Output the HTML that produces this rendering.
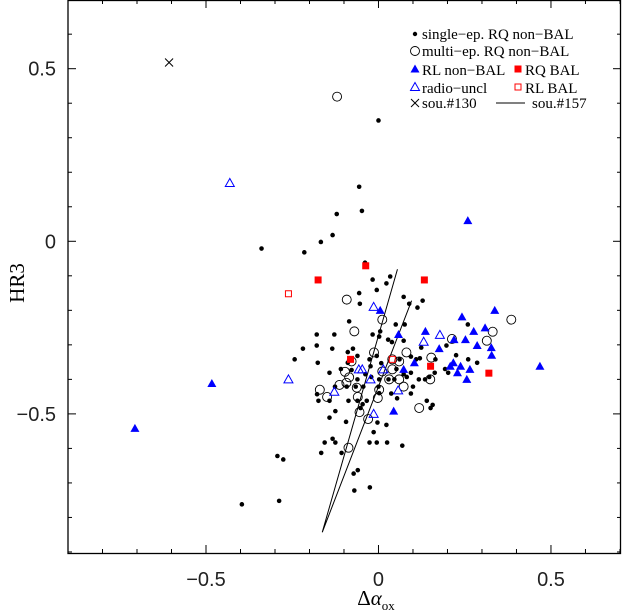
<!DOCTYPE html>
<html><head><meta charset="utf-8"><style>
body{margin:0;background:#fff;width:622px;height:612px;overflow:hidden}
svg{display:block}
text{font-family:"Liberation Sans",sans-serif}
.lg{font-family:"Liberation Serif",serif;font-size:15px}
.serif{font-family:"Liberation Serif",serif}
</style></head><body>
<svg id="chart" width="622" height="612" xmlns="http://www.w3.org/2000/svg"></svg>
<script>
const xTicks=[-0.5,0,0.5];
const yTicks=[0.5,0,-0.5];
const singleX=[0.00,-0.056,-0.048,-0.121,-0.133,-0.167,-0.215,-0.339,-0.039,-0.017,0.023,0.034,-0.005,-0.056,-0.054,0.073,0.089,0.113,0.128,-0.085,0.050,0.076,0.259,-0.179,-0.128,-0.017,0.005,0.028,0.039,0.002,0.073,0.124,-0.179,-0.134,-0.219,-0.243,-0.176,-0.089,-0.074,-0.061,-0.089,-0.026,-0.005,-0.023,0.008,0.061,0.094,0.109,0.120,0.094,0.073,0.052,0.029,0.046,0.082,0.117,0.135,0.147,0.163,0.165,0.197,0.193,0.202,0.225,0.260,0.286,-0.142,-0.109,-0.078,-0.061,-0.038,-0.021,0.002,0.000,-0.044,-0.066,-0.092,-0.126,-0.178,-0.174,-0.142,-0.087,-0.061,-0.034,0.002,0.037,0.054,0.094,0.100,0.140,0.151,0.157,-0.125,-0.142,-0.094,-0.052,-0.046,-0.003,0.023,-0.014,-0.133,-0.156,-0.125,-0.166,-0.107,-0.026,-0.005,0.025,0.069,-0.293,-0.276,-0.072,-0.060,-0.070,-0.025,-0.396,-0.288];
const singleY=[0.35,0.158,0.088,0.079,0.018,-0.002,-0.032,-0.021,-0.062,-0.111,-0.122,-0.102,-0.141,-0.150,-0.181,-0.161,-0.181,-0.192,-0.172,-0.232,-0.241,-0.241,-0.241,-0.270,-0.270,-0.270,-0.261,-0.285,-0.292,-0.276,-0.288,-0.308,-0.302,-0.311,-0.311,-0.342,-0.352,-0.321,-0.311,-0.332,-0.352,-0.342,-0.332,-0.362,-0.353,-0.342,-0.334,-0.342,-0.339,-0.381,-0.385,-0.370,-0.400,-0.400,-0.393,-0.400,-0.400,-0.393,-0.381,-0.342,-0.302,-0.370,-0.381,-0.330,-0.342,-0.352,-0.381,-0.370,-0.373,-0.400,-0.385,-0.393,-0.400,-0.421,-0.421,-0.421,-0.421,-0.421,-0.443,-0.462,-0.462,-0.462,-0.462,-0.462,-0.440,-0.441,-0.455,-0.441,-0.421,-0.462,-0.483,-0.474,-0.492,-0.511,-0.523,-0.483,-0.472,-0.525,-0.532,-0.553,-0.572,-0.583,-0.583,-0.613,-0.613,-0.583,-0.583,-0.583,-0.592,-0.622,-0.632,-0.673,-0.663,-0.722,-0.713,-0.762,-0.752];
const multiX=[-0.120,-0.092,0.011,-0.070,-0.013,0.081,0.153,0.213,0.314,0.331,0.385,-0.078,0.040,0.060,0.011,0.040,-0.097,-0.085,-0.093,-0.113,-0.063,0.002,0.031,0.060,0.073,0.150,-0.170,-0.149,-0.060,-0.002,-0.055,-0.030,0.118,-0.087];
const multiY=[0.419,-0.169,-0.227,-0.261,-0.322,-0.322,-0.337,-0.283,-0.288,-0.262,-0.227,-0.348,-0.342,-0.348,-0.377,-0.371,-0.378,-0.394,-0.410,-0.416,-0.424,-0.430,-0.400,-0.400,-0.421,-0.400,-0.430,-0.451,-0.451,-0.454,-0.495,-0.515,-0.483,-0.598];
const rlX=[0.259,0.005,0.242,0.337,0.058,0.136,0.276,0.309,0.252,0.219,0.286,0.327,0.328,0.176,0.104,0.073,0.208,0.217,0.238,0.229,0.265,0.256,0.468,0.044,-0.483,-0.706];
const rlY=[0.060,-0.200,-0.219,-0.200,-0.270,-0.261,-0.261,-0.251,-0.285,-0.285,-0.302,-0.308,-0.330,-0.311,-0.352,-0.371,-0.362,-0.352,-0.362,-0.381,-0.371,-0.400,-0.362,-0.492,-0.412,-0.542];
const ruX=[-0.431,-0.014,0.178,0.131,-0.057,-0.047,0.014,-0.023,0.057,-0.128,-0.014,-0.261];
const ruY=[0.169,-0.190,-0.271,-0.291,-0.371,-0.371,-0.371,-0.400,-0.432,-0.436,-0.500,-0.400];
const rqbalX=[-0.037,-0.175,0.133,-0.081,0.151,0.320];
const rqbalY=[-0.071,-0.112,-0.112,-0.342,-0.362,-0.382];
const rlbalX=[-0.261,0.040];
const rlbalY=[-0.152,-0.342];
const crossX=[-0.607];
const crossY=[0.518];
const lineX=[0.055,-0.163,0.096];
const lineY=[-0.081,-0.843,-0.172];

const L=68,R=621,T=0,B=553,xmin=-0.9,xmax=0.703,ymin=-0.903,ymax=0.699;
const sx=v=>L+(v-xmin)/(xmax-xmin)*(R-L);
const sy=v=>B-(v-ymin)/(ymax-ymin)*(B-T);
const svg=document.getElementById('chart');
const NS='http://www.w3.org/2000/svg';
function mk(tag,attrs,parent){const e=document.createElementNS(NS,tag);for(const k in attrs)e.setAttribute(k,attrs[k]);(parent||svg).appendChild(e);return e;}

const frame=mk('rect',{x:L,y:T+0.5,width:R-L-0.5,height:B-T,fill:'none',stroke:'#000','stroke-width':1.3});


for(let i=-9;i<=7;i++){const v=i/10;const major=(i%5===0);const len=major?8:4;
 const x=sx(v);if(x>L&&x<R){mk('line',{x1:x,x2:x,y1:B,y2:B-len,stroke:'#000'});mk('line',{x1:x,x2:x,y1:T,y2:T+len,stroke:'#000'});}
 const y=sy(v);if(y>T&&y<B){mk('line',{x1:L,x2:L+len,y1:y,y2:y,stroke:'#000'});mk('line',{x1:R,x2:R-len,y1:y,y2:y,stroke:'#000'});}
}
xTicks.forEach(v=>{const t=mk('text',{x:sx(v),y:586,'text-anchor':'middle','font-size':20,fill:'#222'});t.textContent=(v<0?'\u2212':'')+Math.abs(v);
 
 });
yTicks.forEach(v=>{const t=mk('text',{x:56,y:sy(v)+7,'text-anchor':'end','font-size':20,fill:'#222'});t.textContent=(v<0?'\u2212':'')+Math.abs(v);
 
 });
const yt=mk('text',{x:0,y:0,transform:'translate(24,283) rotate(-90)','text-anchor':'middle','font-size':21,class:'serif'});yt.textContent='HR3';


const xt=mk('text',{x:376,y:605,'text-anchor':'middle','font-size':21,class:'serif'});
xt.innerHTML='\u0394<tspan font-style="italic">\u03b1</tspan><tspan font-size="13" dy="5">ox</tspan>';



function dot(x,y,r){return mk('circle',{cx:x,cy:y,r:r,fill:'#000'});}
function circ(x,y){return mk('circle',{cx:x,cy:y,r:4.5,fill:'none',stroke:'#000','stroke-width':0.9});}
function tri(x,y,fill){return mk('polygon',{points:`${x},${y-4.5} ${x-4.5},${y+3.5} ${x+4.5},${y+3.5}`,fill:fill?'#0000ff':'none',stroke:'#0000ff','stroke-width':fill?0:1});}
function sq(x,y,fill){return fill?mk('rect',{x:x-3.5,y:y-3.5,width:7,height:7,fill:'#ff0000'}):mk('rect',{x:x-3,y:y-3,width:6,height:6,fill:'none',stroke:'#ff0000','stroke-width':1});}
function cross(x,y){const g=mk('g',{stroke:'#000','stroke-width':1});mk('line',{x1:x-4,y1:y-4,x2:x+4,y2:y+4},g);mk('line',{x1:x-4,y1:y+4,x2:x+4,y2:y-4},g);return g;}

const pl=mk('polyline',{points:lineX.map((v,i)=>sx(v)+','+sy(lineY[i])).join(' '),fill:'none',stroke:'#000','stroke-width':1});


singleX.forEach((v,i)=>{const e=dot(sx(v),sy(singleY[i]),2.3);
 
 });
multiX.forEach((v,i)=>{const e=circ(sx(v),sy(multiY[i]));
 
 });
rlX.forEach((v,i)=>{const e=tri(sx(v),sy(rlY[i]),true);
 
 });
ruX.forEach((v,i)=>{const e=tri(sx(v),sy(ruY[i]),false);
 
 });
rqbalX.forEach((v,i)=>{const e=sq(sx(v),sy(rqbalY[i]),true);
 
 });
rlbalX.forEach((v,i)=>{const e=sq(sx(v),sy(rlbalY[i]),false);
 
 });
crossX.forEach((v,i)=>{const e=cross(sx(v),sy(crossY[i]));
 
 });

const lg=mk('g',{});


function ltext(x,y,s){const t=mk('text',{x:x,y:y,class:'lg'},lg);t.textContent=s;return t;}
dot(415,34,2.2);lg.appendChild(svg.lastChild);ltext(422,39,'single\u2212ep. RQ non\u2212BAL');
circ(415,51);lg.appendChild(svg.lastChild);ltext(422,56,'multi\u2212ep. RQ non\u2212BAL');
tri(415,69,true);lg.appendChild(svg.lastChild);ltext(422,75,'RL non\u2212BAL');
sq(518,69,true);lg.appendChild(svg.lastChild);ltext(525,75,'RQ BAL');
tri(415,87,false);lg.appendChild(svg.lastChild);ltext(422,93,'radio\u2212uncl');
sq(518,87,false);lg.appendChild(svg.lastChild);ltext(525,93,'RL BAL');
cross(415,103);lg.appendChild(svg.lastChild);ltext(422,108,'sou.#130');
mk('line',{x1:496,x2:525,y1:103,y2:103,stroke:'#000'},lg);ltext(532,108,'sou.#157');
</script>
</body></html>
